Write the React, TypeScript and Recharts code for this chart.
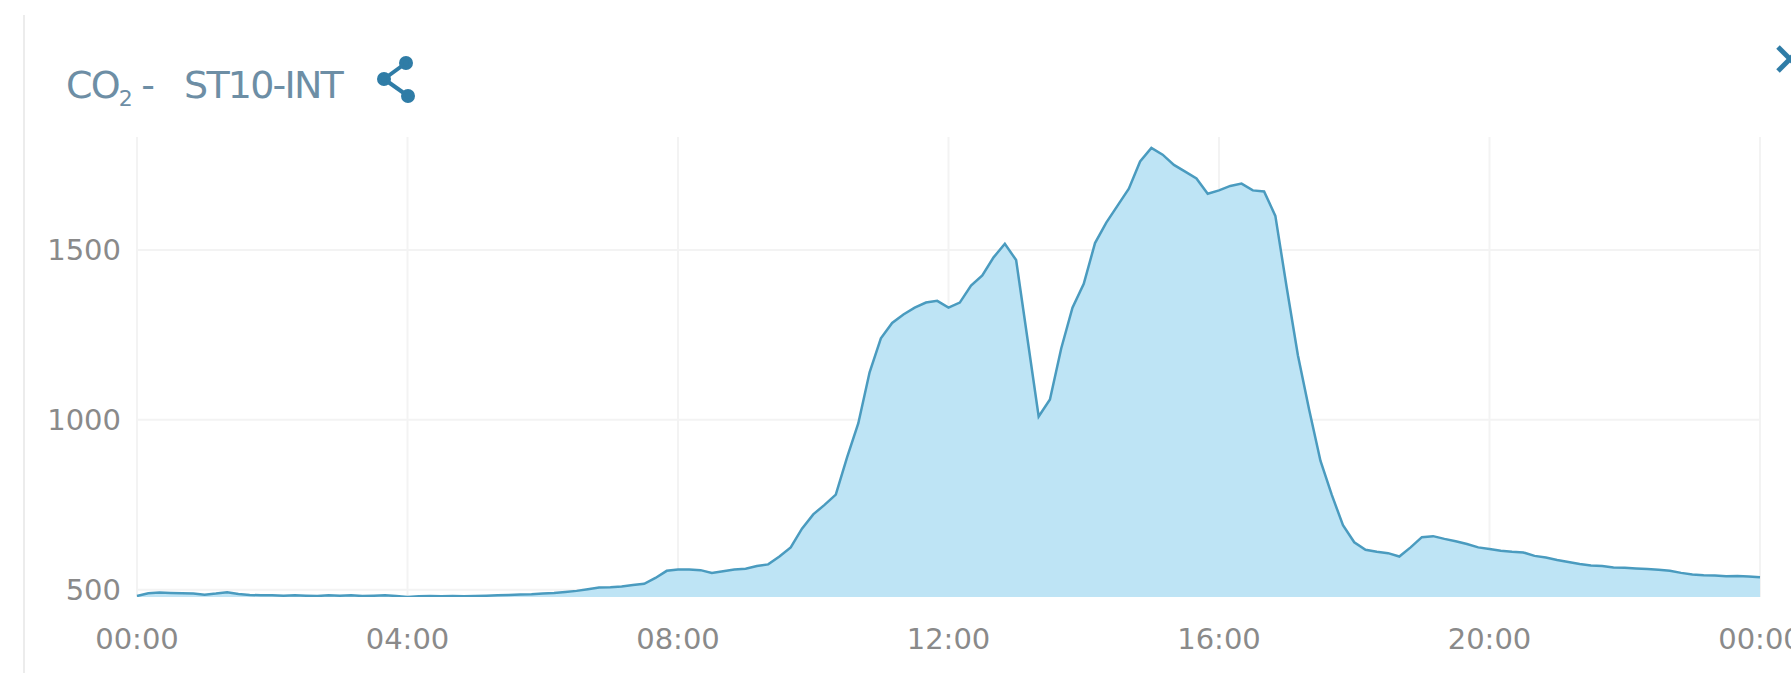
import { AreaChart, Area, XAxis, YAxis, CartesianGrid } from 'recharts';

// CO2 readings (ppm), one every 10 minutes from 00:00 to 24:00
const co2 = [
  482, 490, 492, 491, 490, 489, // 00h
  486, 489, 493, 488, 485, 484, // 01h
  484, 483, 484, 483, 482, 484, // 02h
  483, 484, 482, 483, 484, 482, // 03h
  479, 481, 482, 481, 482, 481, // 04h
  482, 483, 484, 485, 486, 487, // 05h
  489, 491, 494, 497, 502, 507, // 06h
  508, 510, 514, 518, 535, 556, // 07h
  560, 560, 558, 550, 555, 560, // 08h
  562, 570, 575, 598, 625, 680, // 09h
  722, 750, 780, 890, 990, 1140, // 10h
  1240, 1285, 1310, 1330, 1345, 1350, // 11h
  1330, 1345, 1395, 1425, 1478, 1518, // 12h
  1470, 1240, 1010, 1060, 1210, 1330, // 13h
  1400, 1520, 1580, 1630, 1680, 1760, // 14h
  1800, 1780, 1750, 1730, 1710, 1665, // 15h
  1675, 1688, 1695, 1675, 1672, 1600, // 16h
  1391, 1190, 1030, 880, 780, 690, // 17h
  640, 618, 612, 608, 598, 625, // 18h
  655, 658, 650, 643, 635, 625, // 19h
  620, 615, 612, 610, 600, 595, // 20h
  588, 582, 576, 572, 570, 566, // 21h
  565, 563, 561, 559, 556, 550, // 22h
  545, 543, 542, 540, 541, 539, // 23h
  537,
];

const xTicks = [0, 240, 480, 720, 960, 1200, 1440];
const yTicks = [500, 1000, 1500];

const data = co2.map((v, i) => ({ t: i * 10, co2: v }));

const fmtTime = (m: number) => {
  const h = Math.floor(m / 60) % 24;
  return `${String(h).padStart(2, '0')}:00`;
};

const tickStyle = { fill: '#8a8a8a', fontSize: 29, fontFamily: 'DejaVu Sans' };

export default function App() {
  return (
    <div style={{ position: 'absolute', left: 0, top: 0, width: 1791, height: 673, background: '#fff', overflow: 'hidden' }}>
      <div style={{ position: 'absolute', left: 23, top: 15, width: 0, height: 673, borderLeft: '2px solid #ececec' }} />
      <AreaChart width={1791} height={673} data={data} margin={{ top: 137, right: 31, left: 77, bottom: 16 }}>
        <CartesianGrid stroke="#f3f3f3" strokeWidth={2} horizontalValues={yTicks} verticalValues={xTicks} />
        <XAxis
          dataKey="t"
          type="number"
          domain={[0, 1440]}
          ticks={xTicks}
          interval={0}
          tickFormatter={fmtTime}
          axisLine={false}
          tickLine={false}
          tickSize={0}
          tickMargin={31}
          height={60}
          tick={tickStyle}
        />
        <YAxis
          type="number"
          domain={[479, 1832]}
          allowDataOverflow
          ticks={yTicks}
          axisLine={false}
          tickLine={false}
          tickSize={0}
          tickMargin={16}
          width={60}
          tick={tickStyle}
        />
        <Area
          type="linear"
          dataKey="co2"
          stroke="#4a9bbf"
          strokeWidth={2.5}
          fill="#bee4f5"
          fillOpacity={1}
          dot={false}
          activeDot={false}
          isAnimationActive={false}
        />
      </AreaChart>
      <svg width={1791} height={673} style={{ position: 'absolute', left: 0, top: 0, pointerEvents: 'none' }}>
        <text x={66} y={98} fill="#6d8ea5" fontSize={38} fontFamily="DejaVu Sans" letterSpacing={-1.8} style={{ whiteSpace: 'pre' }}>
          CO<tspan fontSize={22} dy={8}>2</tspan>
          <tspan dy={-8}>{' -   ST10-INT'}</tspan>
        </text>
        <g stroke="#2f7ca6" strokeWidth={4} fill="#2f7ca6">
          <line x1={406} y1={63} x2={384} y2={79} />
          <line x1={384} y1={79} x2={408} y2={96} />
          <circle cx={406} cy={63} r={5} />
          <circle cx={384} cy={79} r={5} />
          <circle cx={408} cy={96} r={5} />
        </g>
        <g stroke="#2f7ca6" strokeWidth={5}>
          <line x1={1778} y1={47} x2={1802} y2={71} />
          <line x1={1778} y1={71} x2={1802} y2={47} />
        </g>
      </svg>
    </div>
  );
}
